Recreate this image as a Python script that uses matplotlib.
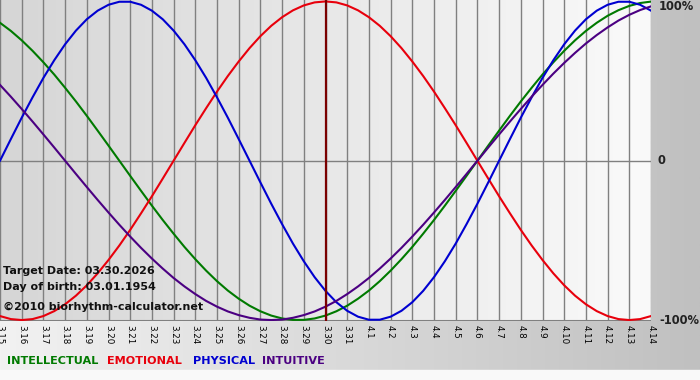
import matplotlib
matplotlib.use("Agg")
import matplotlib.pyplot as plt
import numpy as np
from matplotlib.colors import LinearSegmentedColormap

# ---- data ----
days = ["3.15", "3.16", "3.17", "3.18", "3.19", "3.20", "3.21", "3.22", "3.23", "3.24",
        "3.25", "3.26", "3.27", "3.28", "3.29", "3.30", "3.31", "4.1", "4.2", "4.3",
        "4.4", "4.5", "4.6", "4.7", "4.8", "4.9", "4.10", "4.11", "4.12", "4.13", "4.14"]
# values read every half day, from 3.15 to 4.14
physical = [0.000, 0.136, 0.270, 0.398, 0.520, 0.631, 0.731, 0.817, 0.888, 0.942, 0.979,
            0.998, 0.998, 0.979, 0.942, 0.888, 0.817, 0.731, 0.631, 0.520, 0.398, 0.270,
            0.136, 0.000, -0.136, -0.270, -0.398, -0.520, -0.631, -0.731, -0.817, -0.888,
            -0.942, -0.979, -0.998, -0.998, -0.979, -0.942, -0.888, -0.817, -0.731, -0.631,
            -0.520, -0.398, -0.270, -0.136, 0.000, 0.136, 0.270, 0.398, 0.520, 0.631, 0.731,
            0.817, 0.888, 0.942, 0.979, 0.998, 0.998, 0.979, 0.942]
emotional = [-0.975, -0.994, -1.000, -0.994, -0.975, -0.944, -0.901, -0.847, -0.782, -0.707,
             -0.623, -0.532, -0.434, -0.330, -0.223, -0.112, 0.000, 0.112, 0.223, 0.330,
             0.434, 0.532, 0.623, 0.707, 0.782, 0.847, 0.901, 0.944, 0.975, 0.994, 1.000,
             0.994, 0.975, 0.944, 0.901, 0.847, 0.782, 0.707, 0.623, 0.532, 0.434, 0.330,
             0.223, 0.112, 0.000, -0.112, -0.223, -0.330, -0.434, -0.532, -0.623, -0.707,
             -0.782, -0.847, -0.901, -0.944, -0.975, -0.994, -1.000, -0.994, -0.975]
intellectual = [0.866, 0.815, 0.756, 0.690, 0.618, 0.541, 0.458, 0.372, 0.282, 0.189, 0.095,
                0.000, -0.095, -0.189, -0.282, -0.372, -0.458, -0.541, -0.618, -0.690,
                -0.756, -0.815, -0.866, -0.910, -0.945, -0.972, -0.990, -0.999, -0.999,
                -0.990, -0.972, -0.945, -0.910, -0.866, -0.815, -0.756, -0.690, -0.618,
                -0.541, -0.458, -0.372, -0.282, -0.189, -0.095, 0.000, 0.095, 0.189, 0.282,
                0.372, 0.458, 0.541, 0.618, 0.690, 0.756, 0.815, 0.866, 0.910, 0.945, 0.972,
                0.990, 0.999]
intuitive = [0.476, 0.402, 0.325, 0.246, 0.165, 0.083, 0.000, -0.083, -0.165, -0.246, -0.325,
             -0.402, -0.476, -0.547, -0.614, -0.677, -0.736, -0.789, -0.837, -0.880, -0.916,
             -0.946, -0.969, -0.986, -0.997, -1.000, -0.997, -0.986, -0.969, -0.946, -0.916,
             -0.880, -0.837, -0.789, -0.736, -0.677, -0.614, -0.547, -0.476, -0.402, -0.325,
             -0.246, -0.165, -0.083, 0.000, 0.083, 0.165, 0.246, 0.325, 0.402, 0.476, 0.547,
             0.614, 0.677, 0.736, 0.789, 0.837, 0.880, 0.916, 0.946, 0.969]
samples_per_day = 2
target_day = "3.30"
target_text = "Target Date: 03.30.2026"
birth_text = "Day of birth: 03.01.1954"
copy_text = "\u00a92010 biorhythm-calculator.net"
legend_labels = ["INTELLECTUAL", "EMOTIONAL", "PHYSICAL", "INTUITIVE"]
y_labels = ["100%", "0", "-100%"]

C_INT = "#007a00"
C_EMO = "#e8000c"
C_PHY = "#0000d0"
C_ITU = "#4b0082"

W, H = 700, 380
fig = plt.figure(figsize=(7, 3.8), dpi=100)

# background of whole figure
bg = fig.add_axes([0, 0, 1, 1])
bg.set_axis_off()
cmap_bg = LinearSegmentedColormap.from_list("bg", ["#f2f2f2", "#c0c0c0"])
grad = np.linspace(0, 1, 256).reshape(1, -1)
bg.imshow(grad, cmap=cmap_bg, aspect="auto", extent=[0, W, 0, H])
bg.fill_between([0, W], 0, 10, color="#f9f9f9", zorder=2)
bg.set_xlim(0, W)
bg.set_ylim(0, H)

# plot axes
left_px, right_px, top_px, bot_px = 0, 651, 0, 321
ax = fig.add_axes([left_px / W, 1 - bot_px / H, (right_px - left_px) / W, (bot_px - top_px) / H])
x = np.arange(len(days))
xs = np.arange(len(physical)) / samples_per_day
ax.set_xlim(0, len(days) - 1)
ax.set_ylim(-1.006, 1.009)
cmap_pl = LinearSegmentedColormap.from_list("pl", ["#d6d6d6", "#fafafa"])
ax.imshow(grad, cmap=cmap_pl, aspect="auto", extent=[0, len(days) - 1, -1.006, 1.009], zorder=0)

for xi in x:
    ax.axvline(xi, color="#808080", lw=1.0, zorder=1)
ax.axhline(0, color="#808080", lw=1.0, zorder=1)
ax.axhline(-1.006, color="#808080", lw=1.5, zorder=1)

lw = 1.5
for series, c in [(intellectual, C_INT), (emotional, C_EMO), (physical, C_PHY), (intuitive, C_ITU)]:
    ax.plot(xs, series, color=c, lw=lw, zorder=3, solid_joinstyle="round")
ax.axvline(days.index(target_day), color="#7a0000", lw=1.6, zorder=4)

for s in ax.spines.values():
    s.set_visible(False)
ax.set_yticks([])
ax.set_xticks(x)
ax.set_xticklabels(days, rotation=270, fontsize=6.3, family="DejaVu Sans", va="top", ha="center")
ax.tick_params(axis="x", length=0, pad=3)

# info text
for txt, ypx in [(target_text, 271), (birth_text, 287), (copy_text, 307)]:
    ax.text(3 / 651, 1 - ypx / 321, txt, transform=ax.transAxes, fontsize=8,
            fontweight="bold", color="#111111", va="center", ha="left", zorder=5)

# right-side labels
for lab, xpx, ypx in [(y_labels[0], 659, 7), (y_labels[1], 657, 161), (y_labels[2], 659, 321)]:
    fig.text(xpx / W, 1 - ypx / H, lab, fontsize=8.3, fontweight="bold", color="#222222",
             va="center", ha="left")

# legend text
leg_x = [7, 107, 193, 262]
leg_c = [C_INT, C_EMO, C_PHY, C_ITU]
for lx, lab, c in zip(leg_x, legend_labels, leg_c):
    fig.text(lx / W, 1 - 361 / H, lab, fontsize=8.1, fontweight="bold", color=c,
             va="center", ha="left")

fig.savefig("out.png", dpi=100)
